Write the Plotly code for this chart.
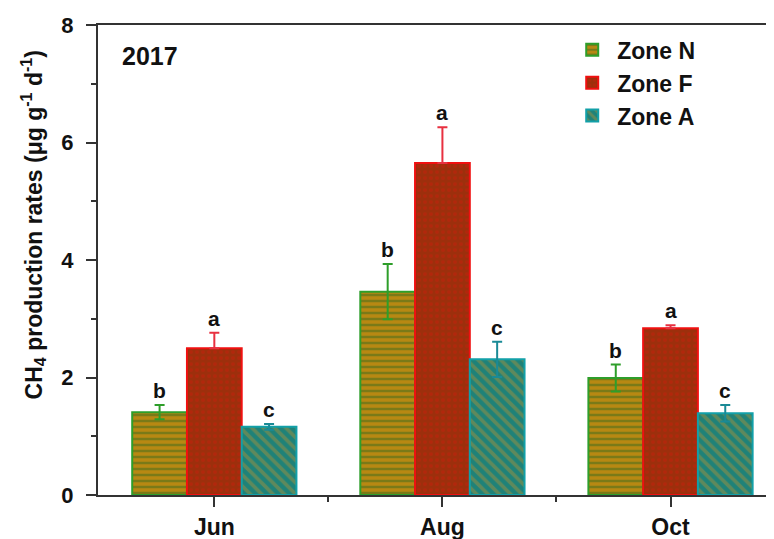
import plotly.graph_objects as go

months = ["Jun", "Aug", "Oct"]
zones = ["Zone N", "Zone F", "Zone A"]
zone_n = [1.41, 3.46, 1.99]
zone_n_err = [0.12, 0.47, 0.23]
zone_f = [2.50, 5.65, 2.84]
zone_f_err = [0.26, 0.61, 0.05]
zone_a = [1.16, 2.31, 1.39]
zone_a_err = [0.05, 0.30, 0.14]
letters_n = ["b", "b", "b"]
letters_f = ["a", "a", "a"]
letters_a = ["c", "c", "c"]
yticks = [0, 2, 4, 6, 8]

FONT = "Arial, Liberation Sans, sans-serif"
xpos = list(range(len(months)))
bw = 0.24

fig = go.Figure()
specs = [
    (zones[0], zone_n, zone_n_err, True,
     dict(color="#7a7a18", line=dict(color="#2e9e2a", width=2),
          pattern=dict(shape="-", fgcolor="#f6960c", bgcolor="#7a7a18", size=6, solidity=0.58, fillmode="overlay")),
     "#2e9e2a"),
    (zones[1], zone_f, zone_f_err, False,
     dict(color="#9d2d0c", line=dict(color="#f01010", width=2),
          pattern=dict(shape=".", fgcolor="#c8200c", bgcolor="#9d2f0c", size=6, solidity=0.3, fillmode="overlay")),
     "#e83040"),
    (zones[2], zone_a, zone_a_err, True,
     dict(color="#1f8278", line=dict(color="#12a0a8", width=2),
          pattern=dict(shape="\\", fgcolor="#a09040", bgcolor="#1f8278", size=8, solidity=0.45, fillmode="overlay")),
     "#1a8a96"),
]
for name, vals, errs, sym, marker, ecol in specs:
    fig.add_trace(go.Bar(
        name=f"<b>{name}</b>", x=xpos, y=vals, marker=marker,
        error_y=dict(type="data", array=errs,
                     arrayminus=errs if sym else [0] * len(errs),
                     symmetric=False, color=ecol, thickness=2, width=5),
    ))

offsets = [-bw, 0, bw]
for off, vals, errs, lets in zip(offsets, [zone_n, zone_f, zone_a],
                                 [zone_n_err, zone_f_err, zone_a_err],
                                 [letters_n, letters_f, letters_a]):
    for i, (v, e, l) in enumerate(zip(vals, errs, lets)):
        fig.add_annotation(x=xpos[i] + off, y=v + e, text=f"<b>{l}</b>",
                           showarrow=False, yanchor="bottom", yshift=1,
                           font=dict(family=FONT, size=21, color="#111"))

fig.add_annotation(x=0.032, y=0.935, xref="paper", yref="paper", text="<b>2017</b>",
                   showarrow=False, xanchor="left", yanchor="middle",
                   font=dict(family=FONT, size=25, color="#111"))

fig.add_annotation(x=-0.095, y=0.574, xref="paper", yref="paper", textangle=-90,
                   text="<b>CH<sub>4</sub> production rates (μg g<sup>-1</sup> d<sup>-1</sup>)</b>",
                   showarrow=False, xanchor="center", yanchor="middle",
                   font=dict(family=FONT, size=23, color="#111"))

fig.update_layout(
    width=774, height=539,
    margin=dict(l=90, r=0, t=17, b=52),
    plot_bgcolor="white", paper_bgcolor="white",
    barmode="group", bargap=0.28, bargroupgap=0,
    font=dict(family=FONT, color="#111"),
    legend=dict(x=0.688, y=0.993, xanchor="left", yanchor="top",
                font=dict(family=FONT, size=23, color="#111"),
                bgcolor="rgba(0,0,0,0)", tracegroupgap=0, itemwidth=40),
    xaxis=dict(range=[-0.51, 2.48], tickmode="array", tickvals=xpos,
               ticktext=[f"<b>{m}</b>" for m in months],
               tickfont=dict(family=FONT, size=23, color="#111"),
               ticks="outside", ticklen=10, tickwidth=2, tickcolor="#333",
               ticklabelstandoff=0,
               minor=dict(tickvals=[0.5, 1.5], ticks="outside", ticklen=5, tickwidth=2, tickcolor="#333"),
               showline=True, linewidth=2, linecolor="#333", mirror=True,
               showgrid=False, zeroline=False),
    yaxis=dict(range=[0, 8], tickmode="array", tickvals=yticks,
               ticktext=[f"<b>{t}</b>" for t in yticks],
               tickfont=dict(family=FONT, size=22, color="#111"),
               ticks="outside", ticklen=10, tickwidth=2, tickcolor="#333",
               ticklabelstandoff=8,
               minor=dict(dtick=1, ticks="outside", ticklen=5, tickwidth=2, tickcolor="#333"),
               showline=True, linewidth=2, linecolor="#333", mirror=True,
               showgrid=False, zeroline=False),
)

fig.write_html("out.html")
